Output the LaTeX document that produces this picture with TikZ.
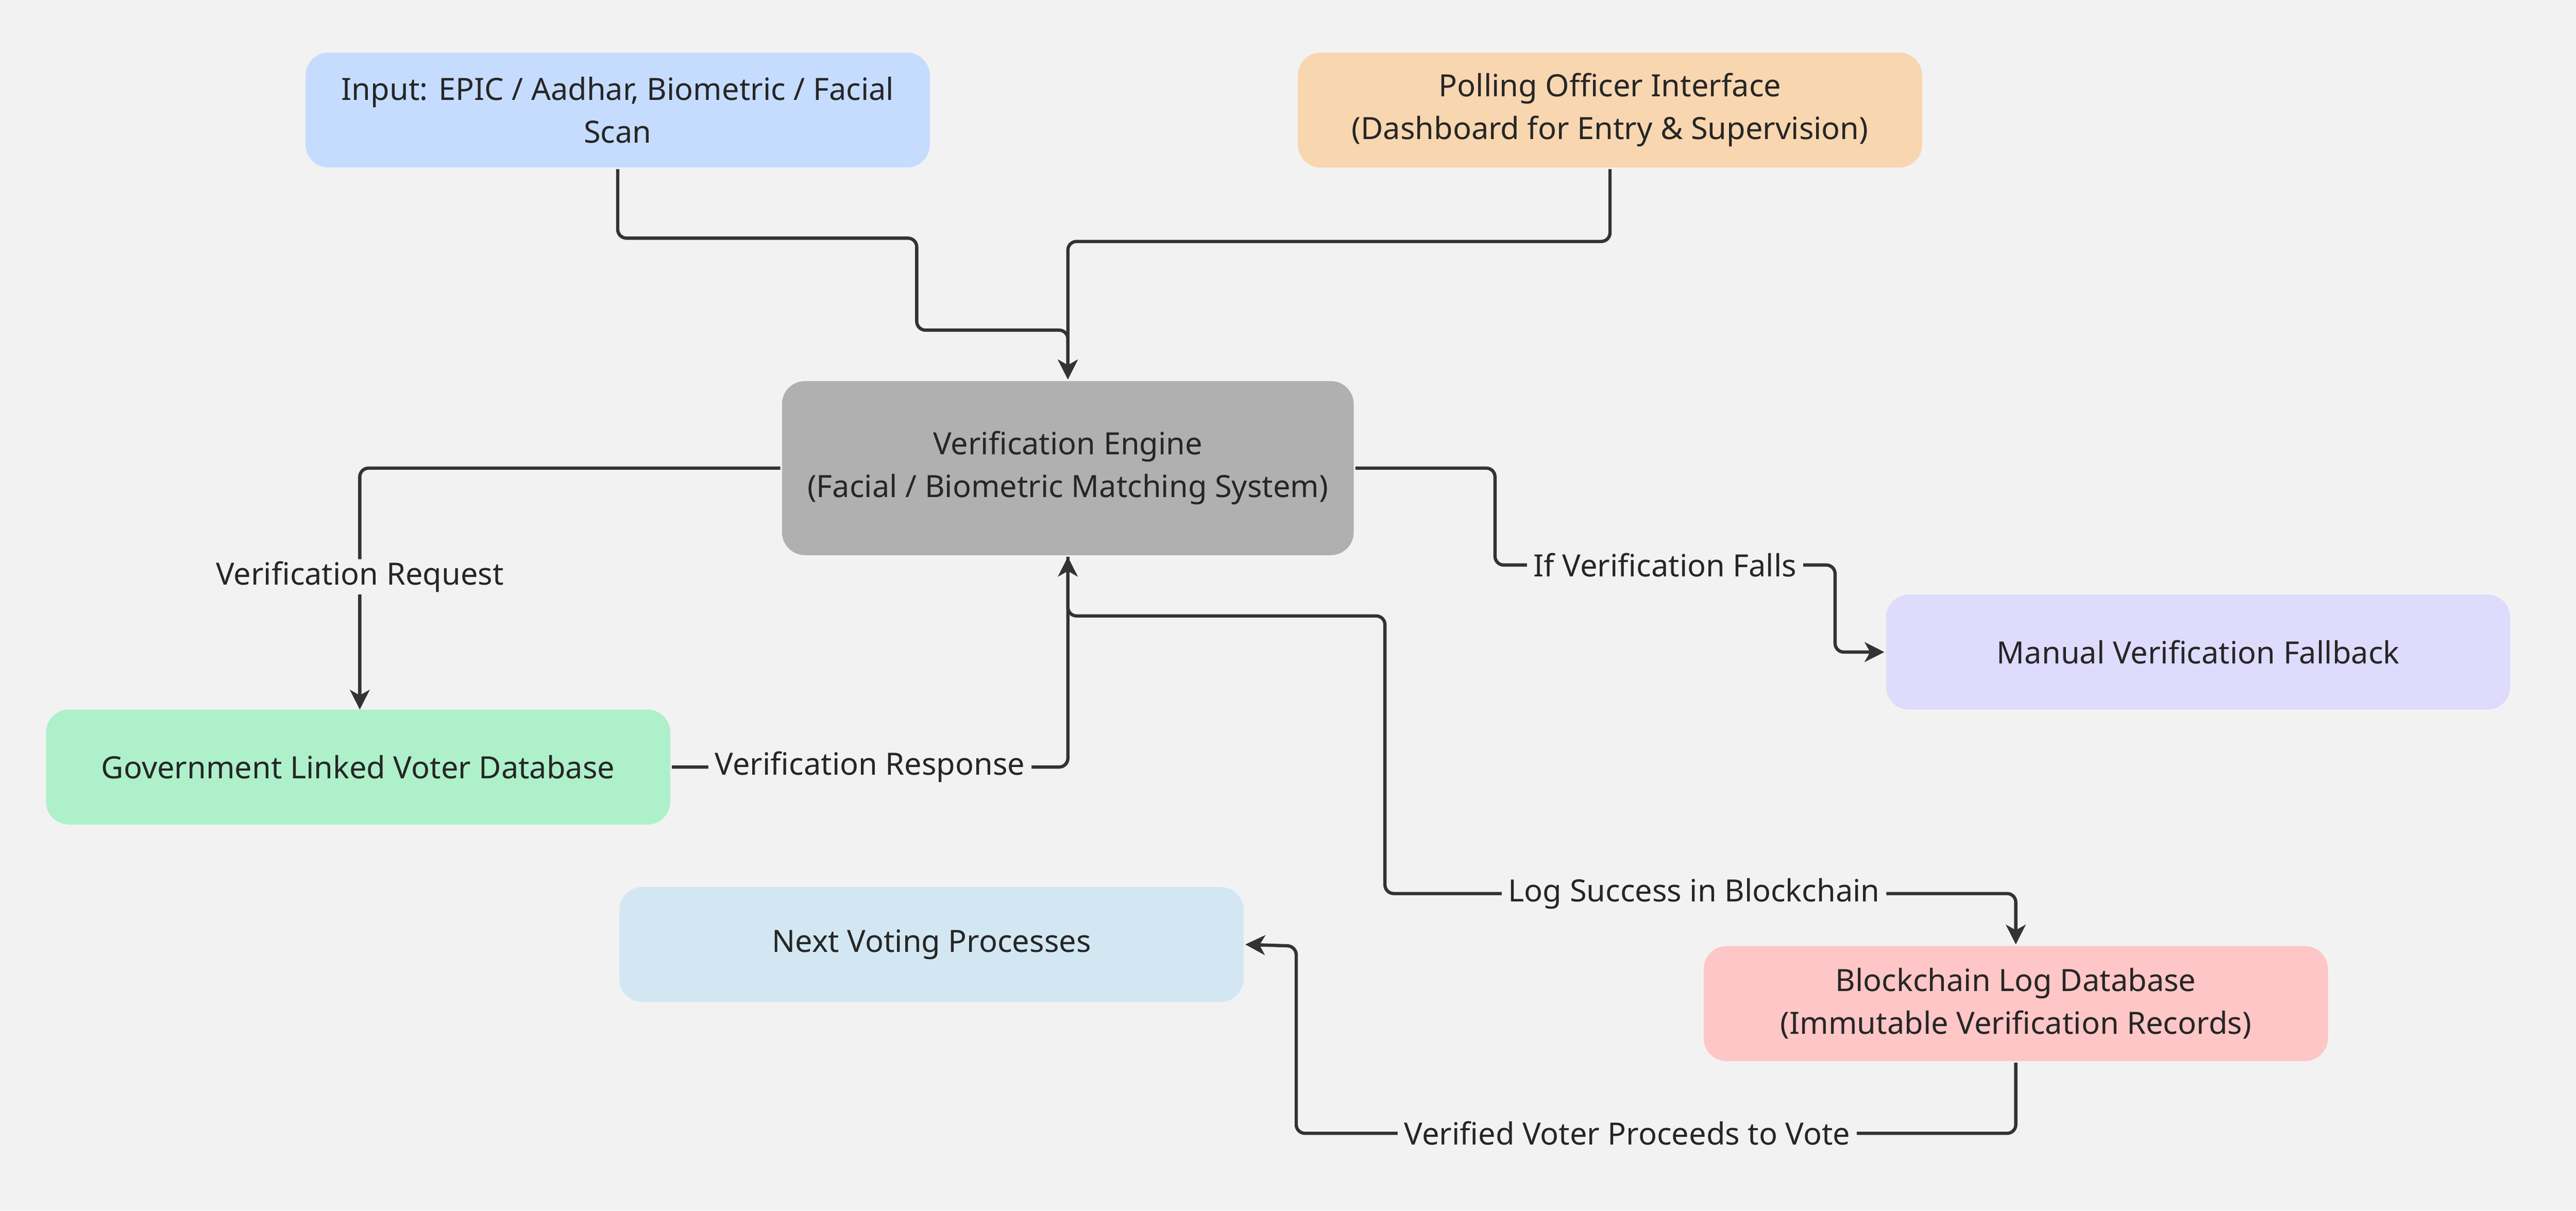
\documentclass[tikz,border=0pt]{standalone}
\usepackage{fontspec}
\setmainfont{Noto Sans}
\usetikzlibrary{arrows.meta}

\definecolor{bgc}{HTML}{F2F2F2}
\definecolor{inpc}{HTML}{C6DCFE}
\definecolor{polc}{HTML}{F8D6B0}
\definecolor{engc}{HTML}{B0B0B0}
\definecolor{manc}{HTML}{DEDBFD}
\definecolor{govc}{HTML}{AEF0CA}
\definecolor{nxtc}{HTML}{D3E7F3}
\definecolor{blkc}{HTML}{FEC6C6}
\definecolor{linec}{HTML}{333333}
\definecolor{txtc}{HTML}{262626}

\tikzset{every picture/.style={line width=1.5pt}}
\tikzset{
  box/.style={rounded corners=10.5pt, minimum width=285pt, minimum height=52.5pt,
    align=center, text=txtc, font=\fontsize{14}{19.5}\selectfont, inner sep=0.75pt},
  flow/.style={draw=linec, rounded corners=4pt, -{Stealth[length=9pt,width=9pt,inset=2.5pt]}},
  lbl/.style={fill=bgc, text=txtc, inner xsep=3pt, inner ysep=1pt, font=\fontsize{14}{16}\selectfont}
}

\begin{document}
\begin{tikzpicture}[x=0.75pt,y=0.75pt,yscale=-1,xscale=1]
		\useasboundingbox (0,0) rectangle (1568,737);
		\fill[bgc] (0,0) rectangle (1568,737);

		% Nodes
		\node (inp) [box, fill=inpc] at (376,67) {Input: EPIC / Aadhar, Biometric / Facial\\Scan};
		\node (pol) [box, fill=polc] at (980,67) {Polling Officer Interface\\(Dashboard for Entry \& Supervision)};
		\node (eng) [box, fill=engc, minimum width=261pt, minimum height=79.5pt] at (650,285) {Verification Engine\\(Facial / Biometric Matching System)};
		\node (man) [box, fill=manc] at (1338,397) {Manual Verification Fallback};
		\node (gov) [box, fill=govc] at (218,467) {Government Linked Voter Database};
		\node (nxt) [box, fill=nxtc] at (567,575) {Next Voting Processes};
		\node (blk) [box, fill=blkc] at (1227,611) {Blockchain Log Database\\(Immutable Verification Records)};

		% Connectors
		\draw[flow] (inp.south) -- (376,145) -- (558,145) -- (558,201) -- (650,201) -- (eng.north);
		\draw[flow] (pol.south) -- (980,147) -- (650,147) -- (eng.north);
		\draw[flow] (eng.west) -- (219,285) -- node[lbl, pos=0.45] {Verification Request} (219,432);
		\draw[flow] (gov.east) -- node[lbl] {Verification Response} (650,467) -- (eng.south);
		\draw[flow] (eng.east) -- (910,285) -- (910,344) -- node[lbl] {If Verification Falls} (1117,344) -- (1117,397) -- (man.west);
		\draw[flow] (eng.south) -- (650,375) -- (843,375) -- (843,544) -- node[lbl, pos=0.49] {Log Success in Blockchain} (1227,544) -- (blk.north);
		\draw[flow] (blk.south) -- (1227,690) -- node[lbl, pos=0.54] {Verified Voter Proceeds to Vote} (789,690) -- (789,576) -- (nxt.east);

		\end{tikzpicture}
\end{document}
